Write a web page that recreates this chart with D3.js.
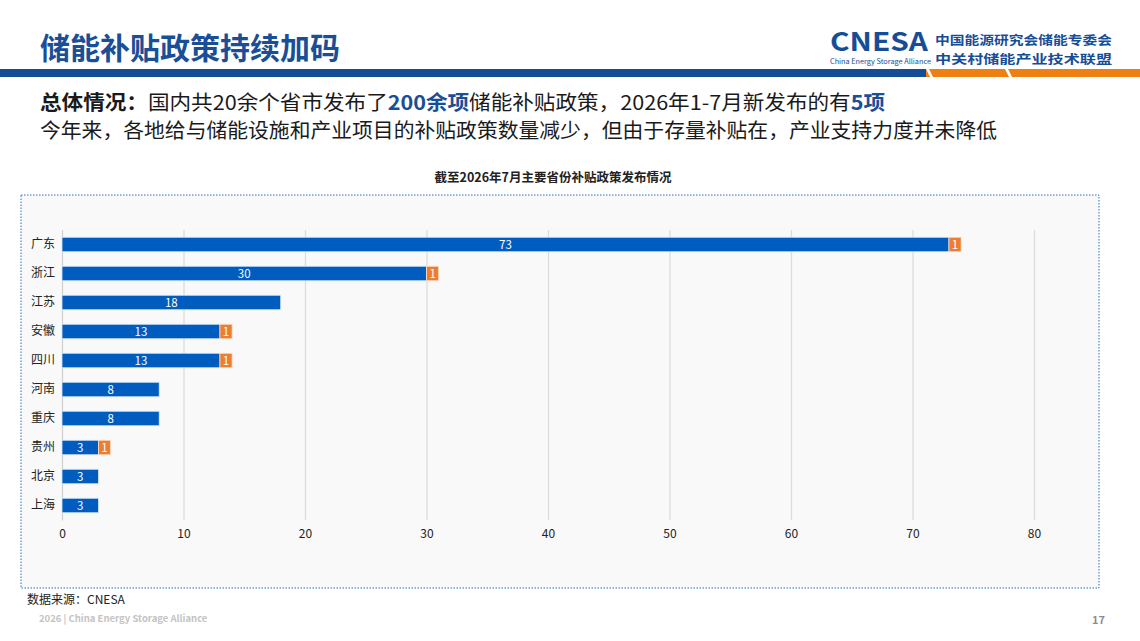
<!DOCTYPE html>
<html>
<head>
<meta charset="utf-8">
<script src="https://cdn.jsdelivr.net/npm/d3@7"></script>
<style>
  body { margin: 0; background: #fff; }
  svg text { font-family: "Microsoft YaHei", "Noto Sans CJK SC", sans-serif; }
</style>
</head>
<body>
<div id="wrapper"></div>
<script>
// data
const provinces = ['广东', '浙江', '江苏', '安徽', '四川', '河南', '重庆', '贵州', '北京', '上海']
const existing = [73, 30, 18, 13, 13, 8, 8, 3, 3, 3]
const newIn2026 = [1, 1, 0, 1, 1, 0, 0, 1, 0, 0]
const xTicks = [0, 10, 20, 30, 40, 50, 60, 70, 80]

const W = 1140, H = 641

const svg = d3.select("#wrapper")
    .append("svg")
    .attr("width", W)
    .attr("height", H)

// header title
svg.append("text")
    .attr("x", 40).attr("y", 59)
    .attr("font-size", 30).attr("font-weight", "bold")
    .attr("fill", "#1a4f97")
    .text("储能补贴政策持续加码")

// header stripe
svg.append("rect").attr("x", 0).attr("y", 69).attr("width", 1140).attr("height", 8).attr("fill", "#ee8012")
svg.append("rect").attr("x", 0).attr("y", 69).attr("width", 926).attr("height", 8).attr("fill", "#174d96")
svg.append("path").attr("d", "M926,69 L929,69 L933,77 L930,77 Z").attr("fill", "#fff")
svg.append("path").attr("d", "M1005,69 L1008,69 L1012,77 L1009,77 Z").attr("fill", "#fff")

// logo
svg.append("text")
    .attr("x", 830).attr("y", 51)
    .attr("font-family", "Arial, 'Liberation Sans', sans-serif")
    .attr("font-size", 26).attr("font-weight", "bold")
    .attr("fill", "#174d96")
    .attr("textLength", 98).attr("lengthAdjust", "spacingAndGlyphs")
    .text("CNESA")
svg.append("text")
    .attr("x", 830).attr("y", 64)
    .attr("font-size", 7)
    .attr("fill", "#174d96")
    .attr("textLength", 101).attr("lengthAdjust", "spacingAndGlyphs")
    .text("China Energy Storage Alliance")
svg.append("text")
    .attr("x", 935).attr("y", 45)
    .attr("font-size", 12.5).attr("font-weight", "bold")
    .attr("fill", "#174d96")
    .attr("textLength", 177).attr("lengthAdjust", "spacingAndGlyphs")
    .text("中国能源研究会储能专委会")
svg.append("text")
    .attr("x", 935).attr("y", 63.5)
    .attr("font-size", 12.5).attr("font-weight", "bold")
    .attr("fill", "#174d96")
    .attr("textLength", 177).attr("lengthAdjust", "spacingAndGlyphs")
    .text("中关村储能产业技术联盟")

// summary lines
const line1 = svg.append("text")
    .attr("x", 40).attr("y", 110)
    .attr("font-size", 20).attr("fill", "#1a1a1a")
    .attr("textLength", 845).attr("lengthAdjust", "spacingAndGlyphs")
line1.append("tspan").attr("font-weight", "bold").text("总体情况：")
line1.append("tspan").text("国内共20余个省市发布了")
line1.append("tspan").attr("font-weight", "bold").attr("fill", "#1a4f97").text("200余项")
line1.append("tspan").text("储能补贴政策，2026年1-7月新发布的有")
line1.append("tspan").attr("font-weight", "bold").attr("fill", "#1a4f97").text("5项")

svg.append("text")
    .attr("x", 40).attr("y", 138)
    .attr("font-size", 20).attr("fill", "#1a1a1a")
    .attr("textLength", 957).attr("lengthAdjust", "spacingAndGlyphs")
    .text("今年来，各地给与储能设施和产业项目的补贴政策数量减少，但由于存量补贴在，产业支持力度并未降低")

// chart title
svg.append("text")
    .attr("x", 553).attr("y", 182)
    .attr("text-anchor", "middle")
    .attr("font-size", 12.5).attr("font-weight", "bold")
    .attr("fill", "#222")
    .text("截至2026年7月主要省份补贴政策发布情况")

// chart box
svg.append("rect")
    .attr("x", 21).attr("y", 195)
    .attr("width", 1078).attr("height", 393)
    .attr("fill", "#f9f9f9")
    .attr("stroke", "#2f6fc0")
    .attr("stroke-width", 1)
    .attr("stroke-dasharray", "1.5,1.5")

// scales
const x = d3.scaleLinear().domain([0, 80]).range([62, 1034])
const y = d3.scaleBand().domain(provinces).range([230, 520]).paddingInner(0.5).paddingOuter(0.25)

// grid
const xAxis = svg.append("g")
    .attr("transform", "translate(0,520)")
    .call(d3.axisBottom(x).tickValues(xTicks).tickSize(-290).tickPadding(9))
xAxis.select(".domain").remove()
xAxis.selectAll(".tick line").attr("stroke", "#dcdcdc").attr("stroke-width", 1.3)
xAxis.selectAll(".tick text").attr("font-size", 12).attr("fill", "#222")
    .attr("font-family", "'Segoe UI', 'Open Sans', sans-serif")

// y axis labels
const yAxis = svg.append("g")
    .attr("transform", "translate(62,0)")
    .call(d3.axisLeft(y).tickSize(0).tickPadding(7))
yAxis.select(".domain").attr("stroke", "#cfcfcf")
yAxis.selectAll(".tick text").attr("font-size", 12).attr("fill", "#222")

const rows = provinces.map((p, i) => ({ p: p, a: existing[i], b: newIn2026[i] }))

// existing bars
svg.append("g").selectAll("rect")
    .data(rows)
    .enter()
    .append("rect")
    .attr("x", x(0))
    .attr("y", d => y(d.p))
    .attr("width", d => x(d.a) - x(0))
    .attr("height", y.bandwidth())
    .attr("fill", "#005cbf")
    .attr("stroke", "#d7e6f7")
    .attr("stroke-width", 0.8)

// new bars
svg.append("g").selectAll("rect")
    .data(rows.filter(d => d.b > 0))
    .enter()
    .append("rect")
    .attr("x", d => x(d.a))
    .attr("y", d => y(d.p))
    .attr("width", d => x(d.a + d.b) - x(d.a))
    .attr("height", y.bandwidth())
    .attr("fill", "#ed7d31")
    .attr("stroke", "#fbe0cc")
    .attr("stroke-width", 0.8)

// labels
svg.append("g").selectAll("text")
    .data(rows)
    .enter()
    .append("text")
    .attr("x", d => (x(0) + x(d.a)) / 2)
    .attr("y", d => y(d.p) + y.bandwidth() / 2)
    .attr("dy", "0.36em")
    .attr("text-anchor", "middle")
    .attr("font-size", 11.5)
    .attr("font-family", "'Segoe UI', 'Open Sans', sans-serif")
    .attr("fill", "#fff")
    .text(d => d.a)

svg.append("g").selectAll("text")
    .data(rows.filter(d => d.b > 0))
    .enter()
    .append("text")
    .attr("x", d => (x(d.a) + x(d.a + d.b)) / 2)
    .attr("y", d => y(d.p) + y.bandwidth() / 2)
    .attr("dy", "0.36em")
    .attr("text-anchor", "middle")
    .attr("font-size", 11.5)
    .attr("font-family", "'Segoe UI', 'Open Sans', sans-serif")
    .attr("fill", "#fff")
    .text(d => d.b)

// source and footer
svg.append("text")
    .attr("x", 27).attr("y", 604)
    .attr("font-size", 12).attr("fill", "#222")
    .text("数据来源：CNESA")
svg.append("text")
    .attr("x", 39).attr("y", 622)
    .attr("font-size", 9.5).attr("font-weight", "bold").attr("fill", "#c4c4c4")
    .text("2026 | China Energy Storage Alliance")
svg.append("text")
    .attr("x", 1105).attr("y", 624)
    .attr("text-anchor", "end")
    .attr("font-size", 11).attr("font-weight", "bold").attr("fill", "#8c8c8c")
    .text("17")
</script>
</body>
</html>
